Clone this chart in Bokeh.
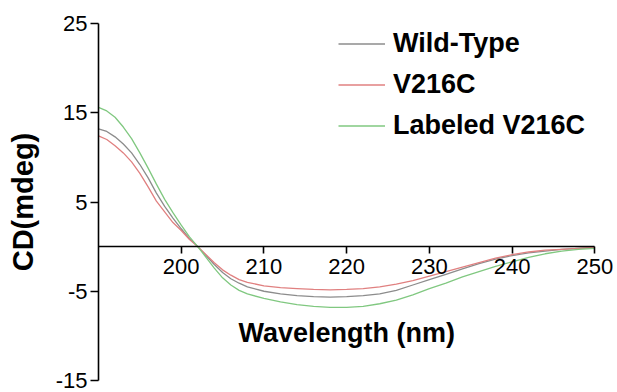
from bokeh.plotting import figure
from bokeh.models import Range1d, FixedTicker, Legend, LegendItem, Label, PrintfTickFormatter
from bokeh.embed import file_html
from bokeh.resources import INLINE

wavelength = [190, 191, 192, 193, 194, 195, 196, 197, 198, 199, 200, 201, 202, 203, 204, 205, 206, 207, 208,
              210, 212, 214, 216, 218, 220, 222, 224, 226, 228, 230, 232, 234, 236, 238, 240, 242, 244, 246, 248, 250]
wild_type = [13.2, 12.9, 12.3, 11.5, 10.5, 9.2, 7.7, 6.0, 4.5, 3.2, 2.0, 0.9, 0.0, -1.0, -2.0, -2.9, -3.6, -4.1, -4.5,
             -5.0, -5.3, -5.5, -5.6, -5.65, -5.6, -5.5, -5.3, -4.9, -4.3, -3.7, -3.1, -2.5, -1.9, -1.4, -1.0,
             -0.7, -0.5, -0.3, -0.2, -0.1]
v216c = [12.4, 12.0, 11.3, 10.5, 9.5, 8.2, 6.7, 5.1, 3.9, 2.7, 1.8, 0.8, 0.0, -0.9, -1.8, -2.6, -3.2, -3.7, -4.0,
         -4.4, -4.6, -4.7, -4.8, -4.85, -4.8, -4.7, -4.5, -4.2, -3.8, -3.3, -2.8, -2.3, -1.8, -1.3, -0.9,
         -0.6, -0.4, -0.3, -0.2, -0.1]
labeled_v216c = [15.6, 15.2, 14.5, 13.4, 12.1, 10.5, 8.8, 7.0, 5.3, 3.8, 2.4, 1.1, 0.0, -1.2, -2.4, -3.5, -4.3, -4.9, -5.3,
                 -5.8, -6.2, -6.5, -6.7, -6.8, -6.8, -6.7, -6.4, -6.0, -5.4, -4.7, -4.1, -3.4, -2.8, -2.2, -1.7,
                 -1.2, -0.8, -0.5, -0.3, -0.2]

series_names = ["Wild-Type", "V216C", "Labeled V216C"]
series_colors = ["#8c8c8c", "#e08080", "#80c880"]
x_ticks = [200, 210, 220, 230, 240, 250]
y_ticks = [-15, -5, 5, 15, 25]
x_title = "Wavelength (nm)"
y_title = "CD(mdeg)"

FONT = "Liberation Sans"
X_START, X_END = 190, 250

p = figure(width=617, height=392, output_backend="svg", toolbar_location=None,
           x_range=Range1d(X_START, 252.5), y_range=Range1d(-15, 25),
           min_border_left=98, min_border_right=2, min_border_top=23, min_border_bottom=12)
p.outline_line_color = None
p.xgrid.visible = False
p.ygrid.visible = False
p.background_fill_color = "white"
p.border_fill_color = "white"

renderers = []
for ys, c in zip([wild_type, v216c, labeled_v216c], series_colors):
    r = p.line(wavelength, ys, line_color=c, line_width=1.3)
    renderers.append(r)

xa = p.xaxis[0]
xa.fixed_location = 0
xa.bounds = (X_START, X_END)
xa.ticker = FixedTicker(ticks=x_ticks)
xa.formatter = PrintfTickFormatter(format="%d")
xa.minor_tick_line_color = None
xa.major_tick_in = 0
xa.major_tick_out = 7
xa.axis_line_width = 1.6
xa.major_tick_line_width = 1.6
xa.axis_line_color = "black"
xa.major_tick_line_color = "black"
xa.major_label_text_font = FONT
xa.major_label_text_font_size = "22px"
xa.major_label_text_color = "black"
xa.major_label_standoff = 5

ya = p.yaxis[0]
ya.ticker = FixedTicker(ticks=y_ticks)
ya.formatter = PrintfTickFormatter(format="%d")
ya.minor_tick_line_color = None
ya.major_tick_in = 0
ya.major_tick_out = 8
ya.axis_line_width = 1.6
ya.major_tick_line_width = 1.6
ya.axis_line_color = "black"
ya.major_tick_line_color = "black"
ya.major_label_text_font = FONT
ya.major_label_text_font_size = "22px"
ya.major_label_text_color = "black"
ya.major_label_standoff = 3
ya.axis_label = y_title
ya.axis_label_text_font = FONT
ya.axis_label_text_font_size = "29px"
ya.axis_label_text_font_style = "bold"
ya.axis_label_text_color = "black"
ya.axis_label_standoff = 14

p.add_layout(Label(x=(X_START + X_END) / 2, y=-9.7, text=x_title, text_font=FONT,
                   text_font_size="27px", text_font_style="bold", text_color="black",
                   text_align="center", text_baseline="middle"))

legend = Legend(items=[LegendItem(label=n, renderers=[r]) for n, r in zip(series_names, renderers)],
                location=(240, 234))
legend.background_fill_alpha = 0
legend.border_line_color = None
legend.padding = 0
legend.margin = 0
legend.spacing = 0
legend.glyph_width = 47
legend.glyph_height = 41
legend.label_height = 41
legend.label_standoff = 8
legend.label_text_font = FONT
legend.label_text_font_size = "27px"
legend.label_text_font_style = "bold"
legend.label_text_color = "black"
p.add_layout(legend, "center")

open("out.html", "w").write(file_html(p, INLINE))
